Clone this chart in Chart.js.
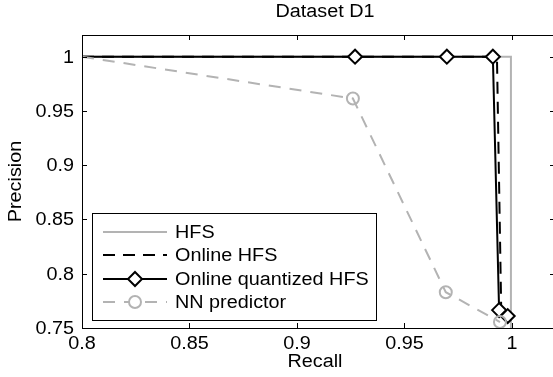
<!DOCTYPE html>
<html lang="en">
<head>
    <meta charset="UTF-8">
    <title>Dataset D1</title>
    <style>
        html, body { margin: 0; padding: 0; background: #fff; overflow: hidden; }
    </style>
</head>
<body>
    <!-- the axes box runs a few pixels past the right edge of the window, as in the reference -->
    <canvas id="myChart" width="556" height="377"></canvas>

    <script src="https://cdn.jsdelivr.net/npm/chart.js"></script>
    <script>
        // Precision / recall curves
        const hfsRecall = [0.8, 0.9995, 0.9995];
        const hfsPrecision = [1, 1, 0.75];

        const onlineRecall = [0.8, 0.993, 0.995];
        const onlinePrecision = [1, 1, 0.765];

        const quantRecall = [0.8, 0.927, 0.9697, 0.9911, 0.994, 0.998];
        const quantPrecision = [1, 1, 1, 1, 0.7665, 0.761];

        const nnRecall = [0.8, 0.926, 0.9692, 0.9944];
        const nnPrecision = [1, 0.9615, 0.783, 0.7555];

        const xTicks = [0.8, 0.85, 0.9, 0.95, 1];
        const yTicks = [0.75, 0.8, 0.85, 0.9, 0.95, 1];
        const xTickLabels = ['0.8', '0.85', '0.9', '0.95', '1'];
        const yTickLabels = ['0.75', '0.8', '0.85', '0.9', '0.95', '1'];

        const gray = '#b3b3b3';
        const font = '18px "Liberation Sans", Arial, sans-serif';
        const stretch = 1.1;

        function pts(xs, ys) {
            return xs.map((x, i) => ({ x: x, y: ys[i] }));
        }

        // text is a bit wider than normal in the reference
        function text(ctx, s, x, y) {
            ctx.save();
            ctx.translate(x, y);
            ctx.scale(stretch, 1);
            ctx.fillText(s, 0, 0);
            ctx.restore();
        }

        const data = {
            datasets: [
                {
                    label: 'HFS',
                    data: pts(hfsRecall, hfsPrecision),
                    borderColor: gray,
                    borderWidth: 2,
                    pointRadius: 0,
                    order: 4
                },
                {
                    label: 'Online HFS',
                    data: pts(onlineRecall, onlinePrecision),
                    borderColor: '#000',
                    borderWidth: 2,
                    borderDash: [12, 8],
                    pointRadius: 0,
                    order: 3
                },
                {
                    label: 'Online quantized HFS',
                    data: pts(quantRecall, quantPrecision),
                    borderColor: '#000',
                    borderWidth: 2,
                    pointStyle: 'rectRot',
                    pointRadius: quantRecall.map((r, i) => i === 0 ? 0 : 7),
                    pointBorderWidth: 2,
                    pointBorderColor: '#000',
                    pointBackgroundColor: '#fff',
                    order: 2
                },
                {
                    label: 'NN predictor',
                    data: pts(nnRecall, nnPrecision),
                    borderColor: gray,
                    borderWidth: 2,
                    borderDash: [12, 9],
                    pointStyle: 'circle',
                    pointRadius: nnRecall.map((r, i) => i === 0 ? 0 : 6),
                    pointBorderWidth: 2,
                    pointBorderColor: gray,
                    pointBackgroundColor: 'rgba(0,0,0,0)',
                    order: 1
                }
            ]
        };

        // frame, inward ticks, tick labels, axis titles, title and legend
        const decor = {
            id: 'decor',
            afterDraw(chart) {
                const ctx = chart.ctx;
                const a = chart.chartArea;
                const xs = chart.scales.x;
                const ys = chart.scales.y;
                ctx.save();
                ctx.strokeStyle = '#000';
                ctx.lineWidth = 1;
                ctx.strokeRect(a.left + 0.5, a.top + 0.5, a.right - a.left, a.bottom - a.top);

                ctx.beginPath();
                xTicks.forEach(v => {
                    const px = Math.round(xs.getPixelForValue(v)) + 0.5;
                    ctx.moveTo(px, a.bottom); ctx.lineTo(px, a.bottom - 5);
                    ctx.moveTo(px, a.top); ctx.lineTo(px, a.top + 5);
                });
                yTicks.forEach(v => {
                    const py = Math.round(ys.getPixelForValue(v)) + 0.5;
                    ctx.moveTo(a.left, py); ctx.lineTo(a.left + 5, py);
                    ctx.moveTo(a.right, py); ctx.lineTo(a.right - 5, py);
                });
                ctx.stroke();

                ctx.fillStyle = '#000';
                ctx.font = font;
                ctx.textAlign = 'center';
                ctx.textBaseline = 'middle';
                xTicks.forEach((v, i) => {
                    text(ctx, xTickLabels[i], xs.getPixelForValue(v), a.bottom + 16);
                });
                ctx.textAlign = 'right';
                yTicks.forEach((v, i) => {
                    text(ctx, yTickLabels[i], a.left - 8, ys.getPixelForValue(v) + 1);
                });

                ctx.textAlign = 'center';
                text(ctx, 'Recall', 315, 362);
                text(ctx, 'Dataset D1', 325, 12);
                ctx.save();
                ctx.translate(16, (a.top + a.bottom) / 2);
                ctx.rotate(-Math.PI / 2);
                text(ctx, 'Precision', 0, 0);
                ctx.restore();

                // legend box
                const lx = 92, ly = 213, lw = 284, lh = 107;
                ctx.fillStyle = '#fff';
                ctx.fillRect(lx, ly, lw, lh);
                ctx.strokeRect(lx + 0.5, ly + 0.5, lw, lh);
                const rows = [232, 255, 279, 302];
                chart.data.datasets.forEach((ds, i) => {
                    const y = rows[i];
                    ctx.strokeStyle = ds.borderColor;
                    ctx.lineWidth = 2;
                    ctx.setLineDash(ds.borderDash || []);
                    ctx.beginPath();
                    ctx.moveTo(103, y); ctx.lineTo(167, y);
                    ctx.stroke();
                    ctx.setLineDash([]);
                    if (ds.label === 'Online quantized HFS') {
                        ctx.fillStyle = '#fff';
                        ctx.beginPath();
                        ctx.moveTo(135, y - 7); ctx.lineTo(142, y);
                        ctx.lineTo(135, y + 7); ctx.lineTo(128, y);
                        ctx.closePath();
                        ctx.fill(); ctx.stroke();
                    } else if (ds.label === 'NN predictor') {
                        ctx.fillStyle = '#fff';
                        ctx.beginPath();
                        ctx.arc(135, y, 6, 0, Math.PI * 2);
                        ctx.fill(); ctx.stroke();
                    }
                    ctx.fillStyle = '#000';
                    ctx.textAlign = 'left';
                    text(ctx, ds.label, 175, y + 1);
                });
                ctx.restore();
            }
        };

        const config = {
            type: 'scatter',
            data: data,
            options: {
                responsive: false,
                animation: false,
                showLine: true,
                clip: false,
                layout: { autoPadding: false, padding: { left: 82, top: 35, right: 1, bottom: 49 } },
                plugins: { legend: { display: false }, tooltip: { enabled: false } },
                scales: {
                    x: { type: 'linear', min: 0.8, max: 1.02, display: false },
                    y: { type: 'linear', min: 0.75, max: 1.02, display: false }
                }
            },
            plugins: [decor]
        };

        const myChart = new Chart(document.getElementById('myChart'), config);
    </script>
</body>
</html>
